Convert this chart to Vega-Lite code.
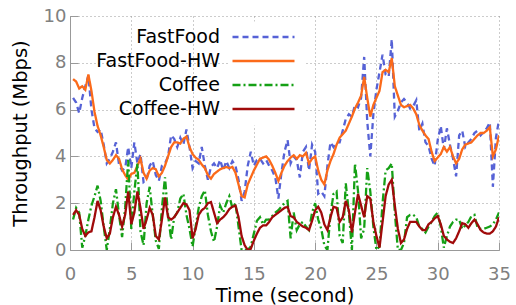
{
 "$schema": "https://vega.github.io/schema/vega-lite/v6.json",
 "width": 429, "height": 234, "autosize": "none",
 "padding": {"left": 70, "top": 16, "right": 17, "bottom": 55},
 "background": "white",
 "config": {"view": {"stroke": null}, "font": "DejaVu Sans"},
 "data": {"values": [
{"t":0.25,"FastFood":6.5,"FastFood-HW":7.3,"Coffee":1.3,"Coffee-HW":1.5},
{"t":0.5,"FastFood":6.3,"FastFood-HW":7.2,"Coffee":1.8,"Coffee-HW":1.7},
{"t":0.75,"FastFood":5.85,"FastFood-HW":6.9,"Coffee":1.6,"Coffee-HW":1.5},
{"t":1.0,"FastFood":6.5,"FastFood-HW":7.0,"Coffee":0.1,"Coffee-HW":0.9},
{"t":1.25,"FastFood":7.0,"FastFood-HW":6.85,"Coffee":0.6,"Coffee-HW":0.6},
{"t":1.5,"FastFood":7.45,"FastFood-HW":7.5,"Coffee":1.3,"Coffee-HW":0.75},
{"t":1.75,"FastFood":6.0,"FastFood-HW":6.8,"Coffee":1.9,"Coffee-HW":0.8},
{"t":2.0,"FastFood":5.2,"FastFood-HW":5.9,"Coffee":2.3,"Coffee-HW":1.4},
{"t":2.25,"FastFood":5.05,"FastFood-HW":5.3,"Coffee":2.75,"Coffee-HW":2.1},
{"t":2.5,"FastFood":5.15,"FastFood-HW":4.9,"Coffee":2.1,"Coffee-HW":1.7},
{"t":2.75,"FastFood":4.5,"FastFood-HW":4.4,"Coffee":1.0,"Coffee-HW":1.0},
{"t":3.0,"FastFood":3.7,"FastFood-HW":3.85,"Coffee":0.0,"Coffee-HW":0.5},
{"t":3.25,"FastFood":3.9,"FastFood-HW":3.7,"Coffee":0.9,"Coffee-HW":0.7},
{"t":3.5,"FastFood":4.2,"FastFood-HW":3.85,"Coffee":2.0,"Coffee-HW":1.4},
{"t":3.75,"FastFood":4.6,"FastFood-HW":4.05,"Coffee":2.6,"Coffee-HW":1.85},
{"t":4.0,"FastFood":3.65,"FastFood-HW":3.9,"Coffee":1.5,"Coffee-HW":1.5},
{"t":4.25,"FastFood":3.4,"FastFood-HW":3.45,"Coffee":0.55,"Coffee-HW":1.0},
{"t":4.5,"FastFood":3.5,"FastFood-HW":3.2,"Coffee":1.8,"Coffee-HW":1.5},
{"t":4.75,"FastFood":4.4,"FastFood-HW":3.0,"Coffee":3.85,"Coffee-HW":2.5},
{"t":5.0,"FastFood":3.5,"FastFood-HW":3.25,"Coffee":0.9,"Coffee-HW":1.1},
{"t":5.25,"FastFood":4.6,"FastFood-HW":3.3,"Coffee":2.5,"Coffee-HW":1.6},
{"t":5.5,"FastFood":3.7,"FastFood-HW":3.6,"Coffee":3.7,"Coffee-HW":2.5},
{"t":5.75,"FastFood":4.1,"FastFood-HW":3.9,"Coffee":0.8,"Coffee-HW":1.8},
{"t":6.0,"FastFood":2.9,"FastFood-HW":3.3,"Coffee":0.2,"Coffee-HW":0.9},
{"t":6.25,"FastFood":3.0,"FastFood-HW":3.05,"Coffee":2.0,"Coffee-HW":1.3},
{"t":6.5,"FastFood":3.6,"FastFood-HW":3.4,"Coffee":2.7,"Coffee-HW":1.8},
{"t":6.75,"FastFood":3.8,"FastFood-HW":3.5,"Coffee":1.5,"Coffee-HW":1.5},
{"t":7.0,"FastFood":3.2,"FastFood-HW":3.45,"Coffee":0.4,"Coffee-HW":0.6},
{"t":7.25,"FastFood":2.95,"FastFood-HW":3.15,"Coffee":0.05,"Coffee-HW":0.45},
{"t":7.5,"FastFood":3.6,"FastFood-HW":3.3,"Coffee":1.8,"Coffee-HW":1.3},
{"t":7.75,"FastFood":3.7,"FastFood-HW":3.6,"Coffee":3.1,"Coffee-HW":2.25},
{"t":8.0,"FastFood":4.0,"FastFood-HW":4.0,"Coffee":1.5,"Coffee-HW":1.4},
{"t":8.25,"FastFood":4.9,"FastFood-HW":4.4,"Coffee":0.45,"Coffee-HW":1.3},
{"t":8.5,"FastFood":4.75,"FastFood-HW":4.6,"Coffee":1.4,"Coffee-HW":1.4},
{"t":8.75,"FastFood":4.4,"FastFood-HW":4.6,"Coffee":1.6,"Coffee-HW":1.6},
{"t":9.0,"FastFood":4.8,"FastFood-HW":4.55,"Coffee":2.2,"Coffee-HW":1.8},
{"t":9.25,"FastFood":4.5,"FastFood-HW":4.75,"Coffee":2.4,"Coffee-HW":2.0},
{"t":9.5,"FastFood":5.15,"FastFood-HW":4.85,"Coffee":1.5,"Coffee-HW":1.95},
{"t":9.75,"FastFood":4.4,"FastFood-HW":4.4,"Coffee":0.9,"Coffee-HW":1.7},
{"t":10.0,"FastFood":3.5,"FastFood-HW":4.1,"Coffee":0.15,"Coffee-HW":0.5},
{"t":10.25,"FastFood":3.8,"FastFood-HW":3.95,"Coffee":1.0,"Coffee-HW":0.9},
{"t":10.5,"FastFood":3.7,"FastFood-HW":3.85,"Coffee":1.8,"Coffee-HW":1.5},
{"t":10.75,"FastFood":4.4,"FastFood-HW":3.65,"Coffee":2.3,"Coffee-HW":1.7},
{"t":11.0,"FastFood":3.6,"FastFood-HW":3.5,"Coffee":2.55,"Coffee-HW":1.8},
{"t":11.25,"FastFood":3.0,"FastFood-HW":3.2,"Coffee":1.5,"Coffee-HW":2.0},
{"t":11.5,"FastFood":3.55,"FastFood-HW":3.05,"Coffee":0.8,"Coffee-HW":2.05},
{"t":11.75,"FastFood":3.7,"FastFood-HW":3.25,"Coffee":0.35,"Coffee-HW":1.6},
{"t":12.0,"FastFood":3.5,"FastFood-HW":3.35,"Coffee":1.0,"Coffee-HW":1.15},
{"t":12.25,"FastFood":3.85,"FastFood-HW":3.45,"Coffee":1.9,"Coffee-HW":1.3},
{"t":12.5,"FastFood":3.4,"FastFood-HW":3.5,"Coffee":1.6,"Coffee-HW":1.4},
{"t":12.75,"FastFood":3.8,"FastFood-HW":3.55,"Coffee":2.0,"Coffee-HW":1.55},
{"t":13.0,"FastFood":3.5,"FastFood-HW":3.5,"Coffee":2.3,"Coffee-HW":1.75},
{"t":13.25,"FastFood":3.8,"FastFood-HW":3.55,"Coffee":1.8,"Coffee-HW":1.85},
{"t":13.5,"FastFood":3.6,"FastFood-HW":3.3,"Coffee":2.0,"Coffee-HW":1.9},
{"t":13.75,"FastFood":3.0,"FastFood-HW":2.8,"Coffee":1.0,"Coffee-HW":1.4},
{"t":14.0,"FastFood":2.1,"FastFood-HW":2.3,"Coffee":0.0,"Coffee-HW":0.6},
{"t":14.25,"FastFood":2.5,"FastFood-HW":2.25,"Coffee":0.0,"Coffee-HW":0.2},
{"t":14.5,"FastFood":3.6,"FastFood-HW":2.8,"Coffee":0.0,"Coffee-HW":0.0},
{"t":14.75,"FastFood":4.2,"FastFood-HW":3.1,"Coffee":0.15,"Coffee-HW":0.05},
{"t":15.0,"FastFood":3.6,"FastFood-HW":3.4,"Coffee":0.7,"Coffee-HW":0.4},
{"t":15.25,"FastFood":3.85,"FastFood-HW":3.65,"Coffee":1.25,"Coffee-HW":0.7},
{"t":15.5,"FastFood":3.9,"FastFood-HW":3.9,"Coffee":1.4,"Coffee-HW":0.95},
{"t":15.75,"FastFood":3.7,"FastFood-HW":3.95,"Coffee":1.1,"Coffee-HW":1.05},
{"t":16.0,"FastFood":3.85,"FastFood-HW":4.0,"Coffee":1.3,"Coffee-HW":1.05},
{"t":16.25,"FastFood":3.6,"FastFood-HW":3.85,"Coffee":1.3,"Coffee-HW":1.2},
{"t":16.5,"FastFood":3.4,"FastFood-HW":3.6,"Coffee":1.45,"Coffee-HW":1.4},
{"t":16.75,"FastFood":3.1,"FastFood-HW":3.3,"Coffee":1.6,"Coffee-HW":1.5},
{"t":17.0,"FastFood":2.2,"FastFood-HW":2.95,"Coffee":1.7,"Coffee-HW":1.6},
{"t":17.25,"FastFood":3.3,"FastFood-HW":3.3,"Coffee":1.85,"Coffee-HW":1.7},
{"t":17.5,"FastFood":4.2,"FastFood-HW":3.6,"Coffee":2.0,"Coffee-HW":1.8},
{"t":17.75,"FastFood":4.7,"FastFood-HW":3.8,"Coffee":2.1,"Coffee-HW":1.85},
{"t":18.0,"FastFood":3.7,"FastFood-HW":3.95,"Coffee":0.5,"Coffee-HW":1.45},
{"t":18.25,"FastFood":4.0,"FastFood-HW":4.05,"Coffee":1.6,"Coffee-HW":1.4},
{"t":18.5,"FastFood":3.85,"FastFood-HW":3.9,"Coffee":0.85,"Coffee-HW":1.2},
{"t":18.75,"FastFood":3.1,"FastFood-HW":4.05,"Coffee":1.1,"Coffee-HW":1.1},
{"t":19.0,"FastFood":4.2,"FastFood-HW":4.0,"Coffee":1.2,"Coffee-HW":1.0},
{"t":19.25,"FastFood":4.4,"FastFood-HW":4.15,"Coffee":1.0,"Coffee-HW":0.95},
{"t":19.5,"FastFood":3.4,"FastFood-HW":3.7,"Coffee":0.85,"Coffee-HW":0.85},
{"t":19.75,"FastFood":4.5,"FastFood-HW":3.9,"Coffee":1.6,"Coffee-HW":1.25},
{"t":20.0,"FastFood":4.2,"FastFood-HW":4.0,"Coffee":2.0,"Coffee-HW":1.7},
{"t":20.25,"FastFood":2.4,"FastFood-HW":3.4,"Coffee":1.3,"Coffee-HW":1.85},
{"t":20.5,"FastFood":2.5,"FastFood-HW":3.0,"Coffee":0.9,"Coffee-HW":1.6},
{"t":20.75,"FastFood":2.3,"FastFood-HW":2.8,"Coffee":0.2,"Coffee-HW":1.1},
{"t":21.0,"FastFood":3.6,"FastFood-HW":3.4,"Coffee":0.0,"Coffee-HW":0.85},
{"t":21.25,"FastFood":4.6,"FastFood-HW":3.8,"Coffee":1.5,"Coffee-HW":1.4},
{"t":21.5,"FastFood":4.4,"FastFood-HW":4.1,"Coffee":2.4,"Coffee-HW":1.85},
{"t":21.75,"FastFood":4.6,"FastFood-HW":4.5,"Coffee":2.5,"Coffee-HW":1.8},
{"t":22.0,"FastFood":4.6,"FastFood-HW":4.8,"Coffee":0.6,"Coffee-HW":1.2},
{"t":22.25,"FastFood":5.1,"FastFood-HW":4.95,"Coffee":0.3,"Coffee-HW":1.4},
{"t":22.5,"FastFood":5.6,"FastFood-HW":5.1,"Coffee":2.85,"Coffee-HW":2.1},
{"t":22.75,"FastFood":5.8,"FastFood-HW":5.4,"Coffee":1.6,"Coffee-HW":1.7},
{"t":23.0,"FastFood":5.7,"FastFood-HW":5.7,"Coffee":0.0,"Coffee-HW":0.75},
{"t":23.25,"FastFood":6.2,"FastFood-HW":6.05,"Coffee":3.7,"Coffee-HW":1.6},
{"t":23.5,"FastFood":6.1,"FastFood-HW":6.3,"Coffee":2.5,"Coffee-HW":2.4},
{"t":23.75,"FastFood":6.5,"FastFood-HW":6.6,"Coffee":0.5,"Coffee-HW":1.9},
{"t":24.0,"FastFood":8.25,"FastFood-HW":7.4,"Coffee":0.9,"Coffee-HW":1.4},
{"t":24.25,"FastFood":5.5,"FastFood-HW":6.5,"Coffee":3.5,"Coffee-HW":2.3},
{"t":24.5,"FastFood":4.0,"FastFood-HW":5.7,"Coffee":2.5,"Coffee-HW":2.2},
{"t":24.75,"FastFood":5.8,"FastFood-HW":6.2,"Coffee":1.0,"Coffee-HW":1.2},
{"t":25.0,"FastFood":6.85,"FastFood-HW":6.5,"Coffee":0.0,"Coffee-HW":0.6},
{"t":25.25,"FastFood":7.6,"FastFood-HW":6.8,"Coffee":0.15,"Coffee-HW":0.1},
{"t":25.5,"FastFood":8.35,"FastFood-HW":7.6,"Coffee":2.0,"Coffee-HW":1.2},
{"t":25.75,"FastFood":7.5,"FastFood-HW":7.7,"Coffee":3.4,"Coffee-HW":2.3},
{"t":26.0,"FastFood":7.4,"FastFood-HW":7.6,"Coffee":3.5,"Coffee-HW":2.8},
{"t":26.25,"FastFood":9.0,"FastFood-HW":8.2,"Coffee":3.7,"Coffee-HW":3.0},
{"t":26.5,"FastFood":5.7,"FastFood-HW":7.0,"Coffee":1.6,"Coffee-HW":1.9},
{"t":26.75,"FastFood":5.95,"FastFood-HW":6.6,"Coffee":0.0,"Coffee-HW":0.9},
{"t":27.0,"FastFood":6.3,"FastFood-HW":6.2,"Coffee":0.0,"Coffee-HW":0.3},
{"t":27.25,"FastFood":6.45,"FastFood-HW":6.1,"Coffee":0.3,"Coffee-HW":0.45},
{"t":27.5,"FastFood":6.3,"FastFood-HW":6.15,"Coffee":1.4,"Coffee-HW":0.9},
{"t":27.75,"FastFood":6.05,"FastFood-HW":6.2,"Coffee":1.5,"Coffee-HW":1.2},
{"t":28.0,"FastFood":6.15,"FastFood-HW":6.05,"Coffee":1.5,"Coffee-HW":1.2},
{"t":28.25,"FastFood":6.4,"FastFood-HW":5.8,"Coffee":1.4,"Coffee-HW":1.2},
{"t":28.5,"FastFood":5.1,"FastFood-HW":5.35,"Coffee":1.0,"Coffee-HW":1.0},
{"t":28.75,"FastFood":5.4,"FastFood-HW":5.1,"Coffee":0.9,"Coffee-HW":0.85},
{"t":29.0,"FastFood":4.6,"FastFood-HW":4.9,"Coffee":0.75,"Coffee-HW":0.85},
{"t":29.25,"FastFood":4.45,"FastFood-HW":4.75,"Coffee":1.0,"Coffee-HW":1.1},
{"t":29.5,"FastFood":3.9,"FastFood-HW":4.2,"Coffee":1.2,"Coffee-HW":1.2},
{"t":29.75,"FastFood":3.6,"FastFood-HW":3.8,"Coffee":1.45,"Coffee-HW":1.35},
{"t":30.0,"FastFood":4.7,"FastFood-HW":3.95,"Coffee":1.6,"Coffee-HW":1.45},
{"t":30.25,"FastFood":5.3,"FastFood-HW":4.1,"Coffee":1.0,"Coffee-HW":1.1},
{"t":30.5,"FastFood":4.3,"FastFood-HW":4.4,"Coffee":0.1,"Coffee-HW":0.6},
{"t":30.75,"FastFood":5.2,"FastFood-HW":4.2,"Coffee":0.6,"Coffee-HW":0.45},
{"t":31.0,"FastFood":4.5,"FastFood-HW":4.4,"Coffee":1.0,"Coffee-HW":0.35},
{"t":31.25,"FastFood":3.9,"FastFood-HW":4.0,"Coffee":1.2,"Coffee-HW":0.3},
{"t":31.5,"FastFood":3.15,"FastFood-HW":3.7,"Coffee":1.3,"Coffee-HW":0.5},
{"t":31.75,"FastFood":4.9,"FastFood-HW":3.9,"Coffee":1.3,"Coffee-HW":0.8},
{"t":32.0,"FastFood":5.1,"FastFood-HW":4.3,"Coffee":0.9,"Coffee-HW":1.15},
{"t":32.25,"FastFood":4.4,"FastFood-HW":4.5,"Coffee":1.05,"Coffee-HW":1.1},
{"t":32.5,"FastFood":4.6,"FastFood-HW":4.55,"Coffee":1.2,"Coffee-HW":0.95},
{"t":32.75,"FastFood":4.75,"FastFood-HW":4.6,"Coffee":1.45,"Coffee-HW":1.15},
{"t":33.0,"FastFood":5.0,"FastFood-HW":4.75,"Coffee":1.5,"Coffee-HW":1.3},
{"t":33.25,"FastFood":5.1,"FastFood-HW":4.9,"Coffee":0.95,"Coffee-HW":1.1},
{"t":33.5,"FastFood":4.9,"FastFood-HW":5.0,"Coffee":0.9,"Coffee-HW":0.85},
{"t":33.75,"FastFood":5.05,"FastFood-HW":5.0,"Coffee":0.9,"Coffee-HW":0.75},
{"t":34.0,"FastFood":5.2,"FastFood-HW":5.1,"Coffee":0.95,"Coffee-HW":0.7},
{"t":34.25,"FastFood":5.45,"FastFood-HW":5.25,"Coffee":1.0,"Coffee-HW":0.7},
{"t":34.5,"FastFood":2.7,"FastFood-HW":4.0,"Coffee":1.1,"Coffee-HW":0.8},
{"t":34.75,"FastFood":4.8,"FastFood-HW":4.3,"Coffee":1.3,"Coffee-HW":1.0},
{"t":35.0,"FastFood":5.55,"FastFood-HW":4.9,"Coffee":1.6,"Coffee-HW":1.4}
 ]},
 "transform": [{"fold": ["FastFood", "FastFood-HW", "Coffee", "Coffee-HW"], "as": ["series", "value"]}],
 "mark": {"type": "line", "strokeWidth": 2.3, "clip": true},
 "encoding": {
  "x": {"field": "t", "type": "quantitative",
   "scale": {"domain": [0, 35], "nice": false, "zero": false},
   "axis": {"values": [0, 5, 10, 15, 20, 25, 30, 35], "title": "Time (second)",
    "titleFontSize": 19.5, "titleFontWeight": "normal", "titleColor": "black", "titlePadding": 3,
    "labelFontSize": 18, "labelColor": "#808080", "labelPadding": 23, "labelFlush": false,
    "domainColor": "#999999", "tickColor": "#999999", "tickSize": -8,
    "grid": true, "gridDash": [1, 3], "gridColor": "#999999", "gridWidth": 1}},
  "y": {"field": "value", "type": "quantitative",
   "scale": {"domain": [0, 10], "nice": false},
   "axis": {"values": [0, 2, 4, 6, 8, 10], "title": "Throughput (Mbps)",
    "titleFontSize": 19.5, "titleFontWeight": "normal", "titleColor": "black", "titlePadding": 13,
    "labelFontSize": 18, "labelColor": "#808080", "labelPadding": 12,
    "domainColor": "#999999", "tickColor": "#999999", "tickSize": -8,
    "grid": true, "gridDash": [1, 3], "gridColor": "#999999", "gridWidth": 1}},
  "color": {"field": "series", "type": "nominal",
   "scale": {"domain": ["FastFood", "FastFood-HW", "Coffee", "Coffee-HW"], "range": ["#5662d6", "#fb6a1a", "#15a015", "#a00a0a"]},
   "legend": {"title": null, "orient": "none", "legendX": 158, "legendY": 5.5,
    "symbolType": "M-36,0M-6.2,0H6.2", "symbolSize": 100, "symbolStrokeWidth": 2.5, "symbolOffset": 20,
    "labelFontSize": 19, "labelColor": "black", "labelAlign": "right", "labelOffset": -53,
    "rowPadding": 4, "fillColor": "white", "padding": 6}},
  "strokeDash": {"field": "series", "type": "nominal",
   "scale": {"domain": ["FastFood", "FastFood-HW", "Coffee", "Coffee-HW"], "range": [[6, 4], [1, 0], [8, 3, 2, 3], [1, 0]]},
   "legend": {"title": null, "orient": "none", "legendX": 158, "legendY": 5.5,
    "symbolType": "M-36,0M-6.2,0H6.2", "symbolSize": 100, "symbolStrokeWidth": 2.5, "symbolOffset": 20,
    "labelFontSize": 19, "labelColor": "black", "labelAlign": "right", "labelOffset": -53,
    "rowPadding": 4, "fillColor": "white", "padding": 6}}
 }
}
